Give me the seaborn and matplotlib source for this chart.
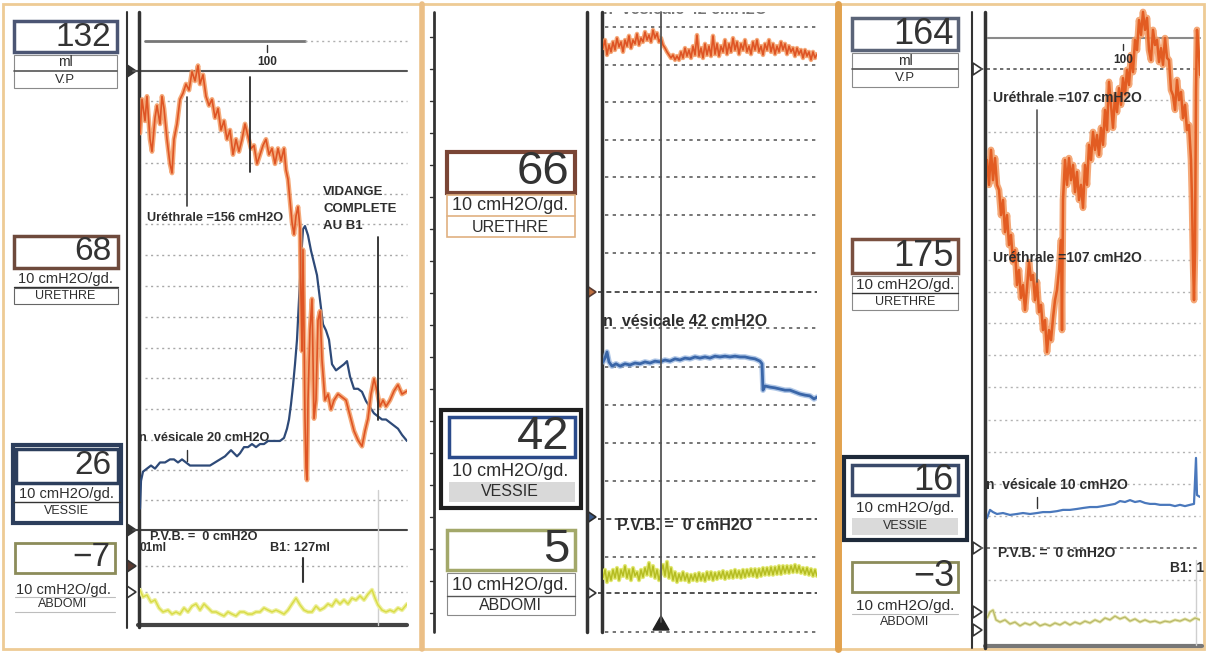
import matplotlib
matplotlib.use("Agg")
import matplotlib.pyplot as plt
from matplotlib.patches import Rectangle, Polygon
import pandas as pd
import seaborn as sns

# ============================ DATA ============================
# Time (s from window start) and pressures (cmH2O) read off the tracings.
# ---- Panel 1 ----
P1_URE_T = [0, 2, 5, 7, 10, 12, 15, 17, 20, 22, 24, 27, 30, 32, 34, 37, 40, 43, 46, 49,
            52, 55, 58, 60, 63, 66, 69, 72, 75, 78, 81, 84, 87, 90, 93, 96, 99, 102, 105, 108,
            111, 114, 117, 120, 123, 126, 129, 132, 135, 138, 141, 144, 146, 148, 150, 152, 154, 156, 158, 160,
            161, 162, 163, 164, 165, 166, 167, 168, 170, 172, 174, 176, 178, 180, 182, 185, 188, 191, 194, 198,
            202, 206, 210, 214, 218, 222, 225, 228, 231, 234, 237, 240, 243, 246, 250, 254, 258, 262, 267]
P1_URE_V = [141, 152, 145, 153, 139, 135, 146, 150, 144, 153, 149, 139, 131, 128, 139, 144, 152, 154, 157, 155,
            161, 158, 163, 157, 160, 153, 150, 152, 146, 149, 142, 145, 139, 142, 134, 139, 135, 139, 144, 140,
            136, 137, 131, 134, 137, 139, 134, 136, 131, 136, 132, 136, 129, 126, 119, 112, 108, 114, 117, 110,
            87, 70, 103, 77, 48, 32, 28, 54, 77, 87, 48, 54, 80, 83, 67, 54, 56, 51, 54, 56,
            55, 54, 49, 44, 41, 39, 44, 48, 56, 61, 57, 52, 54, 52, 54, 57, 59, 56, 57]
P1_VES_T = [0, 1, 3, 7, 11, 15, 20, 25, 30, 34, 38, 42, 46, 50, 55, 60, 65, 70, 75, 80,
            85, 88, 91, 94, 97, 100, 104, 108, 112, 116, 120, 124, 128, 132, 136, 140, 144, 147, 149, 151,
            153, 155, 157, 159, 161, 163, 165, 168, 171, 174, 177, 180, 183, 186, 189, 192, 196, 200, 204, 207,
            210, 214, 218, 222, 226, 230, 234, 238, 242, 246, 250, 254, 258, 262, 267]
P1_VES_V = [7, 16, 19, 20, 21, 20, 22, 22, 23, 23, 22, 23, 22, 21, 21, 21, 21, 21, 22, 23,
            24, 25, 26, 25, 24, 25, 27, 27, 28, 27, 28, 28, 29, 29, 29, 29, 30, 33, 36, 41,
            47, 54, 62, 75, 88, 98, 99, 96, 91, 87, 83, 75, 67, 65, 62, 54, 52, 53, 54, 55,
            50, 46, 46, 45, 42, 40, 38, 37, 36, 36, 35, 34, 33, 31, 29]
P1_ABD_T = [0, 3, 7, 11, 15, 19, 23, 28, 32, 36, 40, 44, 48, 52, 56, 60, 64, 68, 72, 76,
            80, 84, 88, 92, 96, 100, 104, 108, 112, 116, 120, 124, 128, 132, 136, 140, 144, 148, 152, 156,
            160, 164, 168, 172, 176, 180, 184, 188, 192, 196, 200, 204, 208, 212, 216, 220, 224, 228, 232, 235,
            238, 242, 246, 250, 254, 258, 262, 267]
P1_ABD_V = [0.7, -1.6, -1.0, -3.3, -2.6, -5.2, -6.5, -5.9, -7.2, -6.5, -7.2, -5.2, -6.5, -4.6, -3.9, -5.9, -3.9, -5.2, -6.5, -6.5,
            -7.2, -7.8, -6.5, -7.2, -7.8, -6.5, -6.5, -7.2, -7.2, -6.5, -6.5, -5.2, -5.9, -6.5, -5.9, -6.5, -7.2, -5.9, -3.9, -2.0,
            -4.2, -5.9, -6.5, -6.5, -4.6, -5.9, -5.2, -3.9, -4.6, -2.6, -3.9, -2.6, -3.9, -2.0, -2.6, -1.3, -2.6, -0.7, 0.7, -2.0,
            -4.2, -5.9, -6.5, -5.9, -6.5, -5.2, -5.9, -3.9]

# ---- Panel 2 (sampled every 2 s) ----
P2_DT = 2
P2_URE_V = [63.6, 65.7, 61.8, 64.4, 62.6, 65.2, 63.1, 66.2, 63.9, 65.2,
            62.6, 65.7, 64.1, 66.8, 63.6, 65.7, 64.7, 67.3, 64.4, 66.2,
            65.2, 67.8, 65.7, 67.0, 65.2, 68.3, 66.2, 67.5, 65.2, 66.2,
            64.4, 63.6, 62.6, 61.8, 61.0, 61.8, 60.5, 61.5, 60.5, 62.6,
            61.0, 63.6, 61.5, 63.1, 61.0, 64.1, 61.8, 67.0, 61.5, 63.6,
            61.0, 64.7, 61.8, 64.1, 61.5, 66.8, 62.0, 64.7, 61.5, 64.1,
            62.6, 65.7, 62.0, 64.7, 62.6, 66.2, 63.1, 65.2, 62.0, 64.7,
            63.1, 65.7, 62.6, 64.1, 62.0, 65.2, 63.1, 65.7, 62.6, 64.1,
            61.8, 64.7, 63.1, 65.7, 62.6, 64.7, 62.0, 64.1, 62.6, 65.2,
            63.1, 64.7, 62.0, 64.1, 62.6, 63.6, 61.5, 63.6, 62.0, 63.1,
            61.0, 63.1, 61.5, 62.6, 60.5, 62.6, 61.0, 62.0]
P2_ABD_V = [3.7, 5.8, 2.6, 5.2, 3.1, 5.8, 3.7, 6.3, 3.1, 5.8,
            4.2, 6.8, 3.7, 5.8, 3.1, 6.3, 4.2, 5.2, 3.1, 5.8,
            3.9, 6.3, 4.5, 7.6, 4.2, 6.8, 3.7, 5.8, 3.1, 5.2,
            7.1, 4.2, 7.9, 3.7, 6.3, 3.1, 5.2, 2.6, 4.7, 3.1,
            5.2, 3.1, 4.7, 2.6, 4.5, 3.1, 4.7, 2.9, 5.0, 3.1,
            4.7, 2.9, 5.2, 3.4, 5.2, 3.1, 5.0, 3.4, 5.2, 3.7,
            5.5, 3.4, 5.2, 3.7, 5.5, 3.7, 5.8, 3.9, 5.5, 3.7,
            5.8, 3.9, 5.8, 4.2, 6.0, 4.2, 6.0, 3.9, 6.0, 4.2,
            6.3, 4.5, 6.3, 4.5, 6.5, 4.5, 6.5, 4.7, 6.8, 4.7,
            6.8, 5.0, 6.8, 5.0, 6.8, 5.2, 7.1, 5.2, 6.8, 5.0,
            6.3, 4.7, 6.3, 4.5, 6.0, 4.2, 5.8, 4.2]
P2_VES_T = [0, 2, 4, 6, 9, 13, 17, 22, 27, 32, 37, 42, 47, 52, 57, 62, 67, 72, 77, 82,
            87, 92, 97, 102, 107, 112, 117, 122, 127, 132, 137, 142, 147, 152, 157, 159, 160, 162, 167, 172,
            177, 182, 187, 192, 197, 202, 207, 211, 214]
P2_VES_V = [40.6, 41.6, 43.2, 40.6, 39.5, 40.1, 39.5, 40.1, 39.8, 40.3, 40.1, 40.6, 40.3, 40.8, 40.6, 41.1, 40.8, 41.4, 41.1, 41.6,
            41.4, 41.9, 41.6, 41.9, 41.6, 42.1, 41.9, 42.1, 41.9, 42.1, 41.9, 41.9, 41.6, 41.4, 40.8, 40.1, 33.2, 34.3, 34.0, 33.8,
            33.5, 33.2, 33.2, 32.7, 32.2, 31.9, 31.7, 30.9, 31.4]

# ---- Panel 3 ----
P3_URE_T = [0, 2, 4, 6, 8, 10, 12, 14, 16, 18, 20, 22, 24, 26, 28, 30, 32, 34, 36, 38,
            40, 42, 44, 46, 48, 50, 52, 54, 56, 58, 60, 62, 64, 66, 68, 70, 72, 74, 75, 76,
            78, 80, 82, 84, 86, 88, 90, 92, 94, 96, 98, 100, 102, 104, 106, 108, 110, 112, 114, 116,
            118, 120, 122, 124, 126, 128, 130, 132, 134, 136, 138, 140, 142, 144, 146, 148, 150, 152, 154, 156,
            158, 160, 162, 164, 166, 168, 170, 172, 174, 176, 178, 180, 182, 184, 186, 188, 190, 192, 194, 196,
            198, 200, 202, 204, 205, 206, 207, 208, 209, 210, 212, 213]
P3_URE_V = [143.5, 135.6, 146.7, 137.1, 144.1, 135.6, 134.0, 126.0, 130.8, 120.6,
            126.0, 116.5, 119.7, 111.1, 114.9, 103.8, 108.6, 99.7, 103.8, 95.9,
            102.9, 111.1, 105.4, 107.0, 99.0, 104.8, 95.2, 97.5, 89.5, 92.7,
            82.5, 89.5, 86.3, 93.3, 99.0, 102.2, 108.6, 118.1, 89.5, 130.8,
            143.5, 135.6, 144.1, 137.1, 141.9, 133.3, 139.7, 130.8, 135.6, 128.3,
            141.9, 135.6, 148.3, 143.5, 152.4, 146.7, 151.4, 145.1, 153.7, 148.3,
            159.4, 153.0, 168.3, 161.0, 153.7, 164.1, 158.7, 166.3, 161.0, 169.5,
            164.1, 172.1, 167.3, 176.8, 171.4, 181.6, 178.4, 187.9, 183.2, 190.5,
            184.8, 188.6, 178.4, 175.2, 184.8, 180.0, 181.6, 174.6, 179.0, 173.7,
            182.2, 175.9, 175.2, 165.7, 164.1, 159.4, 168.9, 162.5, 165.1, 156.8,
            161.0, 153.0, 154.6, 143.5, 130.8, 111.7, 99.0, 114.9, 165.7, 184.8,
            176.8, 170.5]
P3_VES_T = [0, 3, 6, 10, 16, 23, 30, 36, 43, 50, 56, 63, 70, 76, 83, 90, 96, 103, 110, 116,
            123, 128, 133, 138, 143, 148, 153, 158, 163, 168, 173, 178, 183, 188, 193, 198, 203, 207, 209, 210, 213]
P3_VES_V = [9.5, 12.1, 11.4, 10.8, 11.1, 10.5, 10.8, 11.1, 10.8, 11.1, 11.4, 11.4, 11.7, 12.1, 12.1, 12.4, 12.7, 13.0, 13.0, 13.3,
            13.7, 14.0, 14.9, 14.6, 15.2, 14.6, 14.9, 14.3, 14.0, 14.0, 13.7, 13.7, 13.7, 13.3, 13.7, 13.3, 13.7, 14.0, 28.6, 16.8, 16.2]
P3_ABD_T = [0, 3, 6, 9, 13, 18, 23, 28, 33, 38, 43, 48, 53, 58, 63, 68, 73, 78, 83, 88,
            93, 98, 103, 108, 113, 118, 123, 128, 133, 138, 143, 148, 153, 158, 163, 168, 173, 178, 183, 188,
            193, 198, 203, 208, 213]
P3_ABD_V = [-1.9, 0.0, 0.6, -2.5, -3.2, -2.5, -3.8, -3.2, -4.4, -3.5, -4.1, -3.2, -4.4, -3.8, -4.4, -3.5, -4.1, -3.2, -4.1, -3.2,
            -3.8, -2.9, -3.5, -2.5, -3.2, -1.9, -2.5, -1.3, -2.2, -1.6, -2.9, -2.2, -3.2, -2.5, -3.2, -2.9, -3.5, -2.9, -3.2, -2.5,
            -2.9, -2.2, -2.9, -1.9, -2.5]

# ---- Readouts and labels ----
READ_P1 = ["132", "68", "26", "\u22127"]
READ_P2 = ["66", "42", "5"]
READ_P3 = ["164", "175", "16", "\u22123"]
UNIT = "10 cmH2O/gd."
VOL_UNIT = "ml"
CHANNELS = ["V.P", "URETHRE", "VESSIE", "ABDOMI"]
VP_MARK = "100"
P1_NOTES = ["Uréthrale =156 cmH2O", "VIDANGE", "COMPLETE", "AU B1",
            "n  vésicale 20 cmH2O", "P.V.B. =  0 cmH2O", "01ml", "B1: 127ml"]
P2_NOTES = ["n  vésicale 42 cmH2O", "P.V.B. =  0 cmH2O"]
P3_NOTES = ["Uréthrale =107 cmH2O", "Uréthrale =107 cmH2O", "n  vésicale 10 cmH2O",
            "P.V.B. =  0 cmH2O", "B1: 1"]

# ============================ STYLE ============================
sns.set_style("white")
plt.rcParams['font.family'] = ['Liberation Sans', 'DejaVu Sans']

W, H = 1207, 653
fig = plt.figure(figsize=(W / 100, H / 100), dpi=100, facecolor='white')
TXT = '#2e2e2e'
ORANGE_L, ORANGE_D = '#f39a62', '#de5424'


def overlay():
    ax = fig.add_axes([0, 0, 1, 1])
    ax.set_xlim(0, W)
    ax.set_ylim(H, 0)
    ax.axis('off')
    ax.patch.set_alpha(0)
    return ax


def hl(ax, y, x0, x1, **kw):
    ax.plot([x0, x1], [y, y], **kw)


def vl(ax, x, y0, y1, **kw):
    ax.plot([x, x], [y0, y1], **kw)


def rect(ax, x0, y0, x1, y1, ec, lw, fc='none'):
    ax.add_patch(Rectangle((x0, y0), x1 - x0, y1 - y0, ec=ec, fc=fc, lw=lw))


def tri(ax, x, y, fc, ec='#333333'):
    ax.add_patch(Polygon([(x - 4, y - 6), (x - 4, y + 6), (x + 5, y)], closed=True,
                         fc=fc, ec=ec, lw=1.2))


def txt(ax, x, y, s, fs, ha='center', color=TXT, **kw):
    return ax.text(x, y, s, fontsize=fs, ha=ha, va='center', color=color, **kw)


deco = overlay()

# frame and panel separators
rect(deco, 3, 4, 1204, 649, '#eecb95', 2)
vl(deco, 422, 4, 649, color='#ebbf86', lw=4)
vl(deco, 838, 4, 649, color='#e2a24e', lw=5)

# ---------------- panel 1 grid ----------------
DOT = (0, (1.5, 2.5))
for y in [101, 132, 163, 194, 224, 255, 286, 317, 348, 378, 409, 440, 470, 500, 566, 592]:
    hl(deco, y, 145, 407, color='#a8a8a8', lw=1, ls=DOT)
hl(deco, 41, 145, 305, color='#777777', lw=2)
hl(deco, 41, 305, 407, color='#b0b0b0', lw=1, ls=DOT)
hl(deco, 71, 133, 407, color='#555555', lw=1.5)
hl(deco, 530, 133, 407, color='#444444', lw=1.5)
hl(deco, 625, 138, 407, color='#444444', lw=3)
vl(deco, 127, 12, 628, color='#333333', lw=1.5)
vl(deco, 139, 12, 627, color='#333333', lw=2.5)
vl(deco, 378, 490, 625, color='#cfcfcf', lw=1)

# ---------------- panel 2 grid ----------------
for y in [27, 65, 102, 140, 177, 215, 253, 328, 367, 405, 443, 481, 557, 632]:
    hl(deco, y, 605, 817, color='#5e5e5e', lw=1.2, ls=(0, (2, 2.6)))
for y in [292, 519, 593]:
    hl(deco, y, 598, 817, color='#333333', lw=1.2, ls=(0, (3, 2)))
vl(deco, 434, 12, 632, color='#333333', lw=2)
for y in range(37, 630, 32):
    hl(deco, y, 430, 434, color='#333333', lw=1)
vl(deco, 587, 12, 632, color='#333333', lw=2.5)
vl(deco, 602, 12, 632, color='#333333', lw=2.5)

# ---------------- panel 3 grid ----------------
for y in [100, 132, 163, 196, 229, 260, 292, 323, 355, 387, 420, 452, 484, 516, 580, 612]:
    hl(deco, y, 988, 1200, color='#b3b3b3', lw=1, ls=DOT)
hl(deco, 38, 988, 1200, color='#8a8a8a', lw=1.5)
hl(deco, 69, 980, 1200, color='#555555', lw=1.2, ls=(0, (2, 2)))
hl(deco, 548, 980, 1200, color='#666666', lw=1.2, ls=(0, (2, 2)))
hl(deco, 646, 985, 1202, color='#777777', lw=3)
vl(deco, 972, 12, 648, color='#333333', lw=1.5)
vl(deco, 985, 12, 648, color='#333333', lw=2.5)
vl(deco, 1196, 560, 645, color='#cfcfcf', lw=1)

# ---------------- readout boxes ----------------
BIG1, BIG2, BIG3 = 24, 34, 26
# panel 1
rect(deco, 14, 21, 117, 52, '#4b5573', 2.5)
txt(deco, 111, 37, READ_P1[0], BIG1, ha='right', color='#333333')
rect(deco, 14, 55, 117, 88, '#8a8a8a', 0.8)
hl(deco, 71, 14, 117, color='#555555', lw=1.2)
txt(deco, 65, 62, VOL_UNIT, 10)
txt(deco, 65, 80, CHANNELS[0], 9.5)
rect(deco, 14, 236, 118, 268, '#6e4a3c', 2.5)
txt(deco, 111, 252, READ_P1[1], BIG1, ha='right', color='#333333')
txt(deco, 65, 279, UNIT, 10.5)
hl(deco, 287, 14, 118, color='#333333', lw=1)
rect(deco, 14, 288, 118, 304, '#666666', 0.8)
txt(deco, 65, 296, CHANNELS[1], 9)
rect(deco, 13, 445, 121, 523, '#2c3e5c', 3)
rect(deco, 16, 449, 118, 483, '#2c3e5c', 2.5)
txt(deco, 111, 466, READ_P1[2], BIG1, ha='right', color='#333333')
txt(deco, 66, 494, UNIT, 10.5)
hl(deco, 502, 14, 120, color='#333333', lw=1)
txt(deco, 66, 511, CHANNELS[2], 9)
rect(deco, 15, 543, 115, 573, '#8c8c5a', 2)
txt(deco, 110, 558, READ_P1[3], BIG1, ha='right', color='#333333')
txt(deco, 63, 590, UNIT, 10.5)
hl(deco, 597, 15, 115, color='#bdbdbd', lw=0.8)
txt(deco, 63, 604, CHANNELS[3], 9)
hl(deco, 612, 15, 115, color='#bdbdbd', lw=0.8)

# panel 2
rect(deco, 447, 152, 575, 193, '#7a4535', 3)
txt(deco, 569, 172, READ_P2[0], BIG2, ha='right', color='#333333')
rect(deco, 447, 195, 575, 237, '#e0b080', 1.2)
hl(deco, 216, 447, 575, color='#e0b080', lw=1.2)
txt(deco, 510, 205, UNIT, 13)
txt(deco, 510, 227, CHANNELS[1], 11.5)
rect(deco, 449, 482, 575, 502, 'none', 0, fc='#d9d9d9')
rect(deco, 441, 410, 581, 508, '#1e1e1e', 3)
rect(deco, 449, 417, 575, 457, '#2a4a8a', 2.5)
txt(deco, 569, 437, READ_P2[1], BIG2, ha='right', color='#333333')
txt(deco, 510, 471, UNIT, 13)
txt(deco, 510, 492, CHANNELS[2], 11.5)
rect(deco, 447, 530, 575, 570, '#a3a86a', 2.5)
txt(deco, 569, 550, READ_P2[2], BIG2, ha='right', color='#333333')
rect(deco, 447, 573, 575, 615, '#8a8a8a', 0.8)
hl(deco, 596, 447, 575, color='#555555', lw=1)
txt(deco, 510, 585, UNIT, 13)
txt(deco, 510, 606, CHANNELS[3], 11.5)

# panel 3
rect(deco, 852, 18, 958, 50, '#5b6478', 2.5)
txt(deco, 954, 34, READ_P3[0], BIG3, ha='right', color='#333333')
rect(deco, 852, 53, 958, 87, '#8a8a8a', 0.8)
hl(deco, 69, 852, 958, color='#555555', lw=1.2)
txt(deco, 905, 61, VOL_UNIT, 10)
txt(deco, 905, 78, CHANNELS[0], 9.5)
rect(deco, 852, 239, 958, 273, '#7a5040', 2.5)
txt(deco, 954, 256, READ_P3[1], BIG3, ha='right', color='#333333')
txt(deco, 905, 285, UNIT, 11)
hl(deco, 293, 852, 958, color='#333333', lw=1)
rect(deco, 852, 276, 958, 310, '#8a8a8a', 0.8)
txt(deco, 905, 302, CHANNELS[1], 9)
rect(deco, 852, 518, 958, 535, 'none', 0, fc='#dadada')
rect(deco, 844, 457, 967, 540, '#1e2a3a', 3)
rect(deco, 852, 465, 958, 495, '#3a4a6a', 2.5)
txt(deco, 954, 480, READ_P3[2], BIG3, ha='right', color='#333333')
txt(deco, 905, 508, UNIT, 11)
txt(deco, 905, 526, CHANNELS[2], 9)
rect(deco, 852, 562, 958, 592, '#8c8c5a', 2)
txt(deco, 954, 577, READ_P3[3], BIG3, ha='right', color='#333333')
txt(deco, 905, 606, UNIT, 11)
hl(deco, 614, 852, 958, color='#bdbdbd', lw=0.8)
txt(deco, 905, 622, CHANNELS[3], 9)

# channel zero markers
tri(deco, 131, 71, '#333333')
tri(deco, 131, 530, '#333333')
tri(deco, 131, 566, '#5a3a30')
tri(deco, 131, 592, 'white')
tri(deco, 591, 292, '#c07040', '#5a3a30')
tri(deco, 591, 517, '#3a5a8a', '#2a2a2a')
tri(deco, 591, 593, 'white')
tri(deco, 977, 69, 'white')
tri(deco, 977, 548, 'white')
tri(deco, 977, 612, 'white')
tri(deco, 977, 630, 'white')

# ============================ TRACES ============================
def chan_ax(px0, px1):
    ax = fig.add_axes([px0 / W, 0, (px1 - px0) / W, 1])
    ax.axis('off')
    ax.patch.set_alpha(0)
    return ax


def set_scale(ax, t1, zero, ppd, ytop=0, ybot=H):
    # zero-pressure level at pixel row `zero`, 10 cmH2O per grid (ppd px)
    ax.set_xlim(0, t1)
    ax.set_ylim((zero - ybot) * 10 / ppd, (zero - ytop) * 10 / ppd)


def trace(ax, t, v, color, lw, alpha=1.0):
    df = pd.DataFrame({'t': t, 'v': v})
    sns.lineplot(data=df, x='t', y='v', ax=ax, color=color, linewidth=lw, alpha=alpha,
                 estimator=None, sort=False, errorbar=None, legend=False)


# panel 1 (x 140..407)
a1v = chan_ax(140, 407)
trace(a1v, P1_VES_T, P1_VES_V, '#2e4a78', 1.6)
set_scale(a1v, 267, 530, 30.7)
a1a = chan_ax(140, 407)
trace(a1a, P1_ABD_T, P1_ABD_V, '#eef0a0', 3.0)
trace(a1a, P1_ABD_T, P1_ABD_V, '#d9dc48', 1.1)
set_scale(a1a, 267, 592, 30.7)
a1u = chan_ax(140, 407)
trace(a1u, P1_URE_T, P1_URE_V, ORANGE_L, 3.4, 0.85)
trace(a1u, P1_URE_T, P1_URE_V, ORANGE_D, 1.2)
set_scale(a1u, 267, 566, 30.7)

# panel 2 (x 603..817)
p2_t = [i * P2_DT for i in range(len(P2_URE_V))]
a2u = chan_ax(603, 817)
trace(a2u, p2_t, P2_URE_V, ORANGE_L, 3.2, 0.85)
trace(a2u, p2_t, P2_URE_V, ORANGE_D, 1.2)
set_scale(a2u, 214, 291, 38.2)
a2v = chan_ax(603, 817)
trace(a2v, P2_VES_T, P2_VES_V, '#8fb0dd', 4.0, 0.7)
trace(a2v, P2_VES_T, P2_VES_V, '#3a66a8', 2.0)
set_scale(a2v, 214, 517, 38.2)
a2a = chan_ax(603, 817)
trace(a2a, p2_t, P2_ABD_V, '#e2e872', 3.0)
trace(a2a, p2_t, P2_ABD_V, '#b5bd22', 1.1)
set_scale(a2a, 214, 592, 38.2)

# panel 3 (x 987..1200)
a3v = chan_ax(987, 1200)
trace(a3v, P3_VES_T, P3_VES_V, '#4a78bc', 1.6)
set_scale(a3v, 213, 548, 31.5)
a3a = chan_ax(987, 1200)
trace(a3a, P3_ABD_T, P3_ABD_V, '#e4e4a8', 2.2)
trace(a3a, P3_ABD_T, P3_ABD_V, '#b8b86a', 0.9)
set_scale(a3a, 213, 612, 31.5)
a3u = chan_ax(987, 1200)
trace(a3u, P3_URE_T, P3_URE_V, ORANGE_L, 4.8, 0.85)
trace(a3u, P3_URE_T, P3_URE_V, '#e25c22', 1.8)
set_scale(a3u, 213, 612, 31.5)

# ============================ ANNOTATIONS ============================
top = overlay()
F1, F2, F3 = 9.2, 11.5, 10
BW = 'bold'
# panel 1
vl(top, 267, 45, 52, color='#333333', lw=1)
txt(top, 267, 62, VP_MARK, 8.5, fontweight=BW)
vl(top, 187, 97, 206, color='#3a3a3a', lw=1.2)
vl(top, 250, 77, 172, color='#2a2a2a', lw=1.3)
txt(top, 147, 218, P1_NOTES[0], F1, ha='left', fontweight=BW)
txt(top, 323, 192, P1_NOTES[1], 9.5, ha='left', fontweight=BW)
txt(top, 323, 209, P1_NOTES[2], 9.5, ha='left', fontweight=BW)
txt(top, 323, 226, P1_NOTES[3], 9.5, ha='left', fontweight=BW)
vl(top, 378, 237, 420, color='#2a2a2a', lw=1.3)
txt(top, 139, 438, P1_NOTES[4], F1, ha='left', fontweight=BW)
vl(top, 187, 450, 461, color='#333333', lw=1)
txt(top, 150, 537, P1_NOTES[5], F1, ha='left', fontweight=BW)
txt(top, 139, 548, P1_NOTES[6], 8.5, ha='left', fontweight=BW)
txt(top, 270, 548, P1_NOTES[7], F1, ha='left', fontweight=BW)
vl(top, 303, 558, 582, color='#333333', lw=1.5)

# panel 2
clip = Rectangle((603, 12), 214, 620, transform=top.transData)
t_cut = txt(top, 603, 10, P2_NOTES[0], F2, ha='left', color='#777777', fontweight=BW)
t_cut.set_clip_path(clip)
t_cut.set_clip_on(True)
txt(top, 603, 322, P2_NOTES[0], F2, ha='left', fontweight=BW)
txt(top, 617, 526, P2_NOTES[1], F2, ha='left', fontweight=BW)
vl(top, 661, 12, 622, color='#555555', lw=1.3)
top.add_patch(Polygon([(653, 630), (669, 630), (661, 616)], closed=True, fc='#222222', ec='#222222'))

# panel 3
vl(top, 1123, 44, 50, color='#333333', lw=1)
txt(top, 1123, 60, VP_MARK, 8.5, fontweight=BW)
txt(top, 993, 98, P3_NOTES[0], F3, ha='left', fontweight=BW)
vl(top, 1037, 110, 282, color='#555555', lw=1.2)
txt(top, 993, 258, P3_NOTES[1], F3, ha='left', fontweight=BW)
txt(top, 986, 485, P3_NOTES[2], F3, ha='left', fontweight=BW)
vl(top, 1037, 497, 508, color='#333333', lw=1)
txt(top, 998, 553, P3_NOTES[3], F3, ha='left', fontweight=BW)
txt(top, 1170, 568, P3_NOTES[4], F3, ha='left', fontweight=BW)

fig.savefig('out.png', dpi=100, facecolor='white')
